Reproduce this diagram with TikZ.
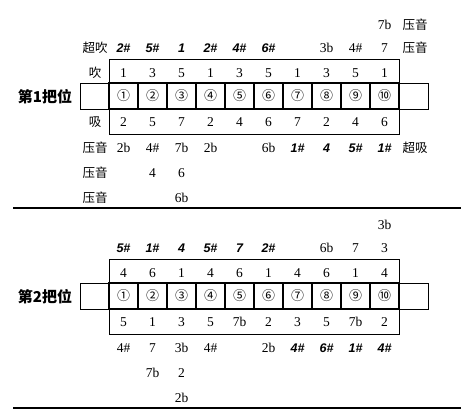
\documentclass[tikz,border=0pt]{standalone}
\usepackage{fontspec}
\setmainfont{Liberation Serif}
\newfontfamily\cjk{Noto Sans CJK SC}
\newfontfamily\boldnum{Liberation Sans}
\begin{document}
\begin{tikzpicture}[x=1pt,y=-1pt,
  num/.style={inner sep=0pt, font=\fontsize{13.5}{13.5}\selectfont},
  bnum/.style={inner sep=0pt, font=\boldnum\fontsize{12.5}{12.5}\selectfont\bfseries\itshape},
  cn/.style={inner sep=0pt, font=\cjk\fontsize{12.5}{12.5}\selectfont},
  title/.style={inner sep=0pt, font=\cjk\fontsize{15}{15}\selectfont\bfseries},
  body/.style={draw, line width=1pt, minimum width=348pt, minimum height=26pt, inner sep=0pt},
  plate/.style={draw, line width=1pt, minimum width=290pt, minimum height=75pt, inner sep=0pt},
  hole/.style={draw, line width=2.8pt, minimum width=29pt, minimum height=26pt, inner sep=0pt, font=\cjk\fontsize{13}{13}\selectfont},
  rule/.style={line width=1.2pt}]
\useasboundingbox (0,0) rectangle (461,410);

% ---------- Section 1 ----------
\node[plate] (plate1) at (254,96.5) {};
\node[body] (body1) at (254,96) {};
\foreach \c [count=\i] in {①,②,③,④,⑤,⑥,⑦,⑧,⑨,⑩}
  \node[hole] (ha\i) at ({94.5+29*\i},96) {\c};
\node[title] (pos1) at (45,97) {第1把位};

\node[num] (a-top10) at ({94.5+29*10},25) {7b};
\node[cn] (a-topya) at (415,25) {压音};

\node[cn] (a-chaochui) at (95,48) {超吹};
\foreach \v [count=\i] in {2\#,5\#,1,2\#,4\#,6\#}
  \node[bnum] (a-ob\i) at ({94.5+29*\i},48) {\v};
\node[num] (a-ob8) at ({94.5+29*8},48) {3b};
\node[num] (a-ob9) at ({94.5+29*9},48) {4\#};
\node[num] (a-ob10) at ({94.5+29*10},48) {7};
\node[cn] (a-obya) at (415,48) {压音};

\node[cn] (a-chui) at (95,73) {吹};
\foreach \v [count=\i] in {1,3,5,1,3,5,1,3,5,1}
  \node[num] (a-blow\i) at ({94.5+29*\i},73) {\v};

\node[cn] (a-xi) at (95,122) {吸};
\foreach \v [count=\i] in {2,5,7,2,4,6,7,2,4,6}
  \node[num] (a-draw\i) at ({94.5+29*\i},122) {\v};

\node[cn] (a-ya1) at (95,148) {压音};
\foreach \v [count=\i] in {2b,4\#,7b,2b}
  \node[num] (a-b1-\i) at ({94.5+29*\i},148) {\v};
\node[num] (a-b1-6) at ({94.5+29*6},148) {6b};
\foreach \v [count=\i from 7] in {1\#,4,5\#,1\#}
  \node[bnum] (a-b1-\i) at ({94.5+29*\i},148) {\v};
\node[cn] (a-chaoxi) at (415,148) {超吸};

\node[cn] (a-ya2) at (95,173) {压音};
\node[num] (a-b2-2) at ({94.5+29*2},173) {4};
\node[num] (a-b2-3) at ({94.5+29*3},173) {6};

\node[cn] (a-ya3) at (95,198) {压音};
\node[num] (a-b3-3) at ({94.5+29*3},198) {6b};

\coordinate (r1a) at (13,208);
\coordinate (r1b) at (461,208);
\draw[rule] (r1a) -- (r1b);

% ---------- Section 2 ----------
\node[plate] (plate2) at (254,296.5) {};
\node[body] (body2) at (254,296) {};
\foreach \c [count=\i] in {①,②,③,④,⑤,⑥,⑦,⑧,⑨,⑩}
  \node[hole] (hb\i) at ({94.5+29*\i},296) {\c};
\node[title] (pos2) at (45,297) {第2把位};

\node[num] (b-top10) at ({94.5+29*10},225) {3b};

\foreach \v [count=\i] in {5\#,1\#,4,5\#,7,2\#}
  \node[bnum] (b-ob\i) at ({94.5+29*\i},248) {\v};
\node[num] (b-ob8) at ({94.5+29*8},248) {6b};
\node[num] (b-ob9) at ({94.5+29*9},248) {7};
\node[num] (b-ob10) at ({94.5+29*10},248) {3};

\foreach \v [count=\i] in {4,6,1,4,6,1,4,6,1,4}
  \node[num] (b-blow\i) at ({94.5+29*\i},273) {\v};

\foreach \v [count=\i] in {5,1,3,5,7b,2,3,5,7b,2}
  \node[num] (b-draw\i) at ({94.5+29*\i},322) {\v};

\foreach \v [count=\i] in {4\#,7,3b,4\#}
  \node[num] (b-b1-\i) at ({94.5+29*\i},348) {\v};
\node[num] (b-b1-6) at ({94.5+29*6},348) {2b};
\foreach \v [count=\i from 7] in {4\#,6\#,1\#,4\#}
  \node[bnum] (b-b1-\i) at ({94.5+29*\i},348) {\v};

\node[num] (b-b2-2) at ({94.5+29*2},373) {7b};
\node[num] (b-b2-3) at ({94.5+29*3},373) {2};

\node[num] (b-b3-3) at ({94.5+29*3},398) {2b};

\coordinate (r2a) at (13,408);
\coordinate (r2b) at (461,408);
\draw[rule] (r2a) -- (r2b);
\end{tikzpicture}
\end{document}
